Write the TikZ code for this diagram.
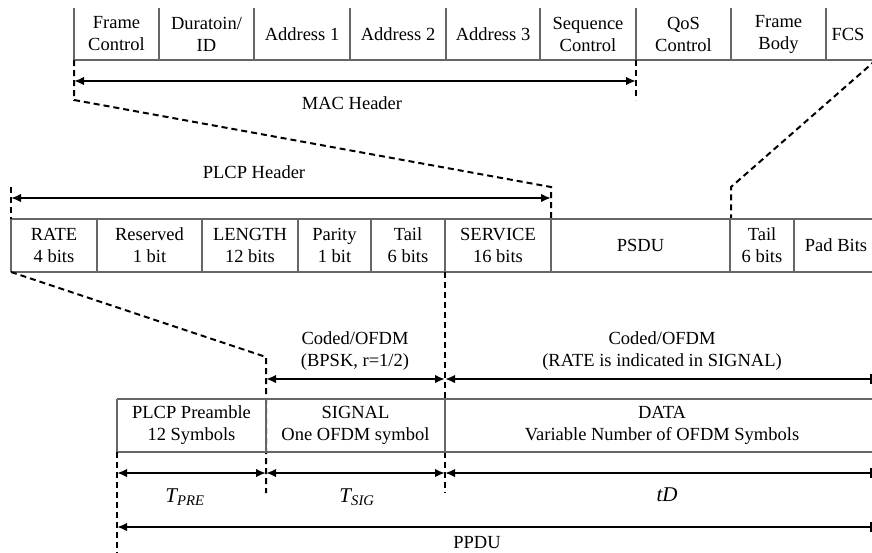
\documentclass[tikz,border=0pt]{standalone}
\usepackage{fontspec}
\setmainfont{Liberation Serif}
\usetikzlibrary{arrows.meta}
\tikzset{
  lbl/.style={font=\fontsize{18.5}{22}\selectfont, align=center, inner sep=0pt},
  plain/.style={font=\fontsize{18.5}{22}\selectfont, inner sep=0pt},
  tlbl/.style={font=\fontsize{21}{24}\selectfont\itshape, inner sep=0pt},
  cellline/.style={draw=black!60, line width=1.1pt},
  dimline/.style={draw=black, line width=2pt, >={Latex[length=10pt,width=8.5pt]}},
  guide/.style={draw=black, line width=2pt, dash pattern=on 6pt off 4pt},
  endbar/.tip={Bar[width=10pt,line width=1.6pt]}
}
\begin{document}
\begin{tikzpicture}[x=1pt,y=-1pt]
\useasboundingbox (0,0) rectangle (872,552);
\clip (0,0) rectangle (872,552);

% ---------- top row: MAC frame ----------
\foreach \x in {74,159,254,350,446,540,636,731,826}
  \draw[cellline] (\x,8) -- (\x,60);
\draw[cellline] (74,60) -- (880,60);
\node[lbl] (fc)  at (116.5,34) {Frame\\Control};
\node[lbl] (dur) at (206.5,34) {Duratoin/\\ID};
\node[lbl] (a1)  at (302,34)   {Address 1};
\node[lbl] (a2)  at (398,34)   {Address 2};
\node[lbl] (a3)  at (493,34)   {Address 3};
\node[lbl] (sc)  at (588,34)   {Sequence\\Control};
\node[lbl] (qos) at (683.5,34) {QoS\\Control};
\node[lbl] (fb)  at (778.5,34) {Frame\\Body};
\node[lbl] (fcs) at (848,34)   {FCS};

\coordinate (macL) at (74,81);
\coordinate (macR) at (636,81);
\draw[dimline,<->] (macL) -- (macR);
\node[lbl] (mach) at (352,103) {MAC Header};

% guides from MAC to PLCP
\coordinate (g1a) at (74,60);
\coordinate (g1b) at (74,100);
\coordinate (g1c) at (551,187);
\coordinate (g1d) at (551,219);
\draw[guide] (g1a) -- (g1b) -- (g1c) -- (g1d);
\coordinate (g2a) at (636,60);
\coordinate (g2b) at (636,100);
\draw[guide] (g2a) -- (g2b);
\coordinate (g3a) at (876,60);
\coordinate (g3b) at (731,187);
\coordinate (g3c) at (731,219);
\draw[guide] (g3a) -- (g3b) -- (g3c);

% ---------- middle row: PLCP ----------
\draw[cellline] (11,219) -- (880,219);
\draw[cellline] (11,272) -- (880,272);
\foreach \x in {11,97,202,298,371,445,551,730,794}
  \draw[cellline] (\x,219) -- (\x,272);
\node[lbl] (rate) at (54,245.5)    {RATE\\4 bits};
\node[lbl] (res)  at (149.5,245.5) {Reserved\\1 bit};
\node[lbl] (len)  at (250,245.5)   {LENGTH\\12 bits};
\node[lbl] (par)  at (334.5,245.5) {Parity\\1 bit};
\node[lbl] (tl1)  at (408,245.5)   {Tail\\6 bits};
\node[lbl] (serv) at (498,245.5)   {SERVICE\\16 bits};
\node[lbl] (psdu) at (640.5,245.5) {PSDU};
\node[lbl] (tl2)  at (762,245.5)   {Tail\\6 bits};
\node[lbl] (pad)  at (836,245.5)   {Pad Bits};

\coordinate (plL) at (11,198);
\coordinate (plR) at (551,198);
\draw[dimline,<->] (plL) -- (plR);
\node[lbl] (plh) at (254,172) {PLCP Header};
\coordinate (g4a) at (11,187);
\coordinate (g4b) at (11,219);
\draw[guide] (g4a) -- (g4b);

% guides from PLCP to PPDU
\coordinate (g5a) at (11,272);
\coordinate (g5b) at (266,357);
\coordinate (g5c) at (266,493);
\draw[guide] (g5a) -- (g5b) -- (g5c);
\coordinate (g6a) at (445,272);
\coordinate (g6b) at (445,493);
\draw[guide] (g6a) -- (g6b);

% coded arrows
\coordinate (cA) at (266,379);
\coordinate (cB) at (445,379);
\coordinate (cC) at (872,379);
\draw[dimline,<->] (cA) -- (cB);
\draw[dimline,<-endbar] (cB) -- (cC);
\node[lbl] (cod1) at (355,351) {Coded/OFDM\\(BPSK, r=1/2)};
\node[lbl] (cod2) at (662,351) {Coded/OFDM\\(RATE is indicated in SIGNAL)};

% ---------- bottom row: PPDU ----------
\draw[cellline] (117,399) -- (880,399);
\draw[cellline] (117,452) -- (880,452);
\foreach \x in {117,266,445}
  \draw[cellline] (\x,399) -- (\x,452);
\node[lbl] (pre)  at (191.5,425.5) {PLCP Preamble\\12 Symbols};
\node[lbl] (sig)  at (355.5,425.5) {SIGNAL\\One OFDM symbol};
\node[lbl] (data) at (662,425.5)   {DATA\\Variable Number of OFDM Symbols};

\coordinate (tA) at (117,473);
\coordinate (tB) at (266,473);
\coordinate (tC) at (445,473);
\coordinate (tD) at (872,473);
\draw[dimline,<->] (tA) -- (tB);
\draw[dimline,<->] (tB) -- (tC);
\draw[dimline,<-endbar] (tC) -- (tD);
\node[tlbl] (tpre) at (185,497) {T\textsubscript{PRE}};
\node[tlbl] (tsig) at (357,497) {T\textsubscript{SIG}};
\node[tlbl] (td)   at (667,495) {tD};

\coordinate (pA) at (117,527);
\coordinate (pB) at (872,527);
\draw[dimline,<-endbar] (pA) -- (pB);
\node[plain,anchor=base] (ppdu) at (477,548) {PPDU};
\coordinate (g7a) at (117,452);
\coordinate (g7b) at (117,560);
\draw[guide] (g7a) -- (g7b);
\end{tikzpicture}
\end{document}
